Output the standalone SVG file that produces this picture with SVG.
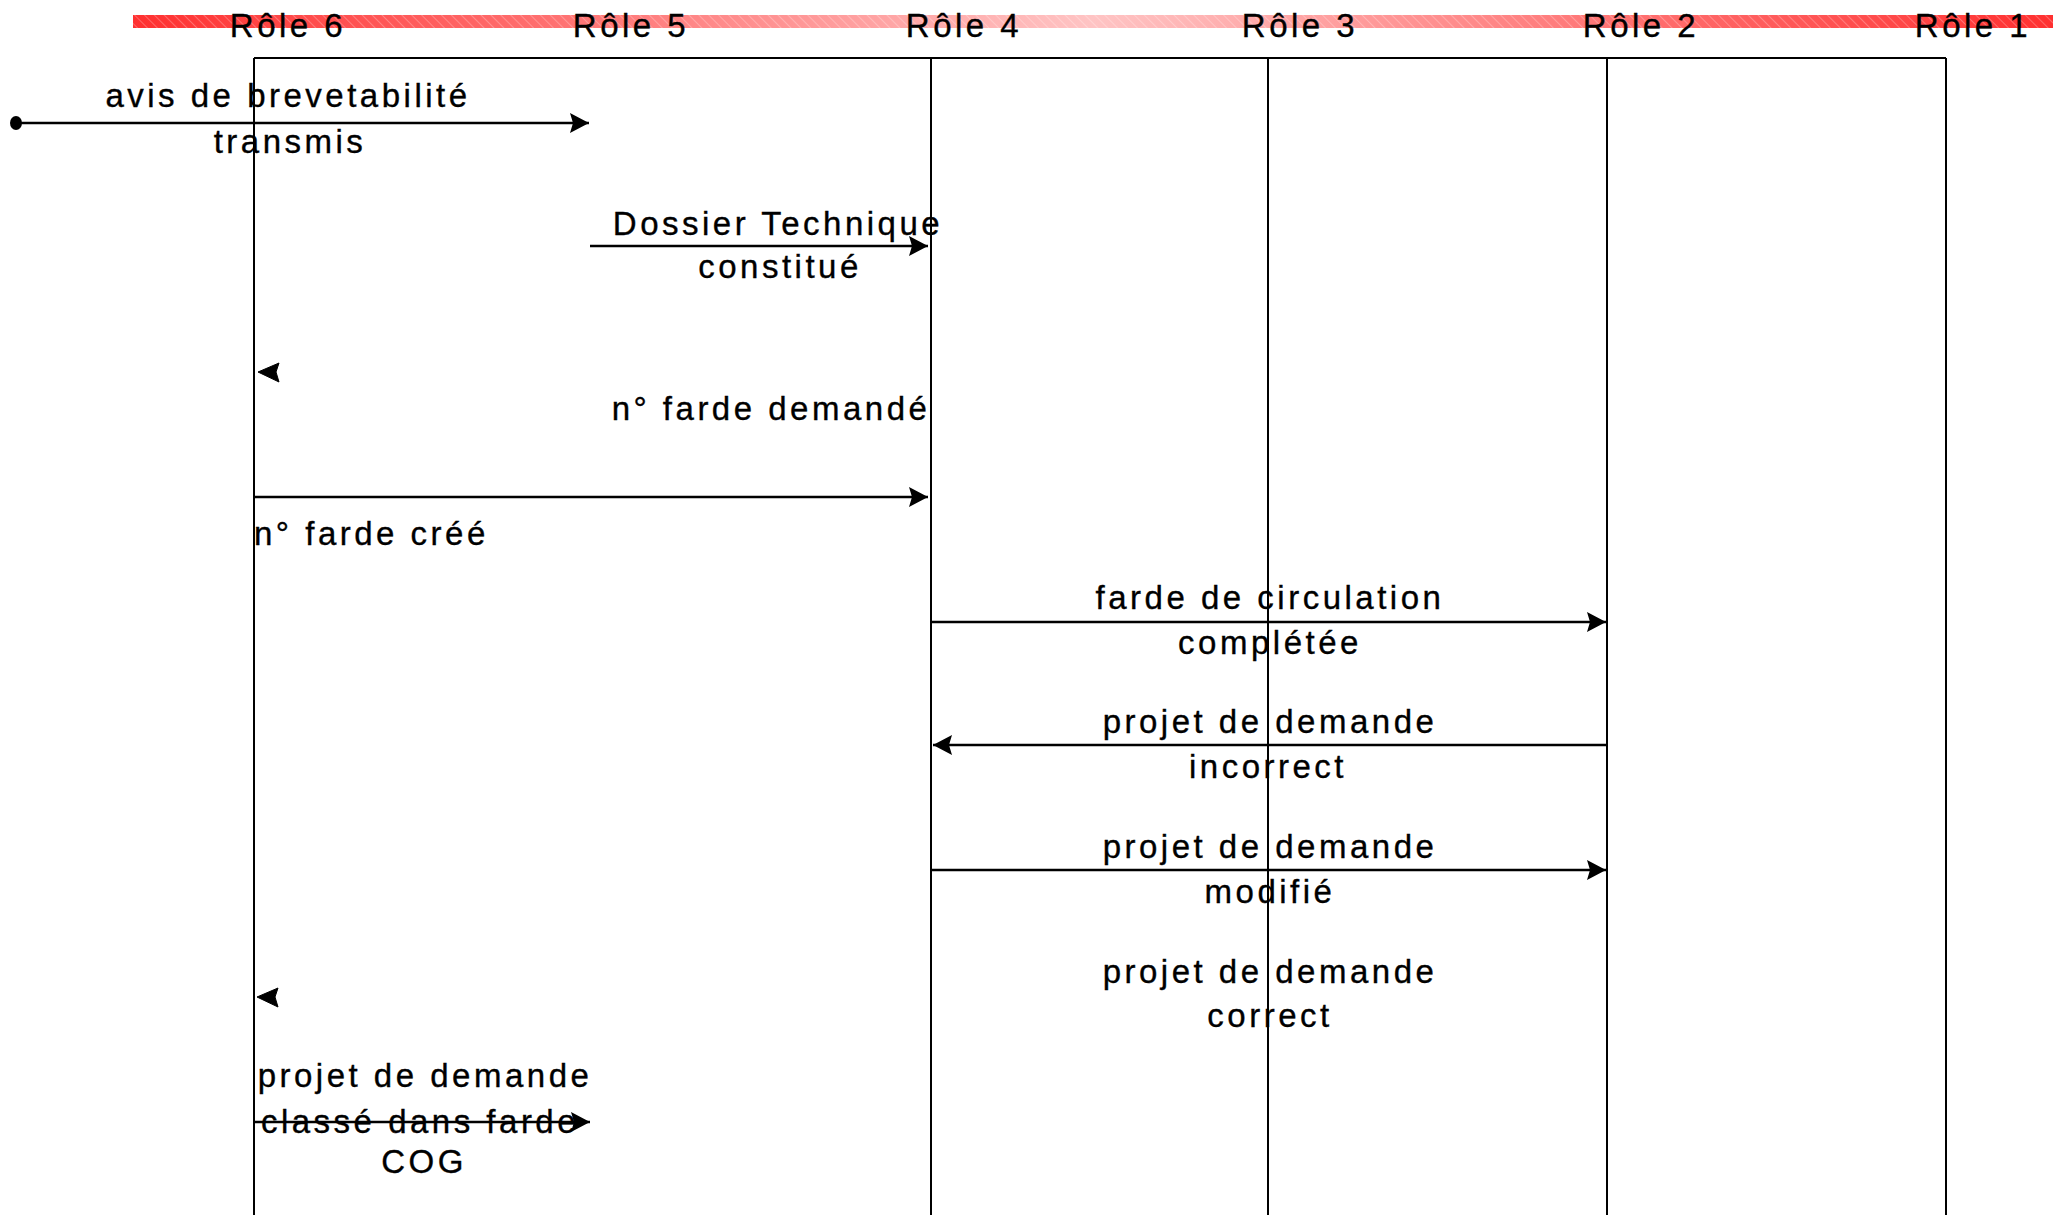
<svg xmlns="http://www.w3.org/2000/svg" width="2053" height="1215" viewBox="0 0 2053 1215">
  <style>
    .lbl { font-family: "Liberation Sans", Arial, sans-serif; font-size: 33px; letter-spacing: 3.5px; fill: #000; stroke: #000; stroke-width: 0.35px; }
    .mid { text-anchor: middle; }
    .frame { stroke: #000; stroke-width: 2; fill: none; }
    .msg { stroke: #000; stroke-width: 2.5; fill: none; }
    .head { fill: #000; stroke: #000; stroke-width: 1; }
  </style>
  <defs>
    <linearGradient id="bandFill" x1="133" y1="0" x2="2053" y2="0" gradientUnits="userSpaceOnUse">
      <stop offset="0" stop-color="#ff3030"/>
      <stop offset="0.5" stop-color="#ffc4c4"/>
      <stop offset="1" stop-color="#ff3030"/>
    </linearGradient>
    <pattern id="hatch" width="7" height="7" patternUnits="userSpaceOnUse" patternTransform="rotate(-45)">
      <line x1="0" y1="0" x2="0" y2="7" stroke="#ffffff" stroke-opacity="0.35" stroke-width="1.5"/>
    </pattern>
    <marker id="arrow" markerWidth="22" markerHeight="22" refX="19" refY="10" orient="auto" markerUnits="userSpaceOnUse">
      <path d="M0,0 L19,10 L0,20 L3,10 z" fill="#000"/>
    </marker>
    <marker id="dot" markerWidth="16" markerHeight="18" refX="8" refY="9" orient="auto" markerUnits="userSpaceOnUse">
      <ellipse cx="8" cy="9" rx="6" ry="7" fill="#000"/>
    </marker>
  </defs>

  <rect x="0" y="0" width="2053" height="1215" fill="#fff"/>

  <!-- role header band -->
  <g id="header-band">
    <rect x="133" y="15" width="1920" height="13" fill="url(#bandFill)"/>
    <rect x="133" y="15" width="1920" height="13" fill="url(#hatch)"/>
  </g>

  <!-- role names -->
  <g id="role-6"><text class="lbl mid" x="288" y="37">Rôle 6</text></g>
  <g id="role-5"><text class="lbl mid" x="631" y="37">Rôle 5</text></g>
  <g id="role-4"><text class="lbl mid" x="964" y="37">Rôle 4</text></g>
  <g id="role-3"><text class="lbl mid" x="1300" y="37">Rôle 3</text></g>
  <g id="role-2"><text class="lbl mid" x="1641" y="37">Rôle 2</text></g>
  <g id="role-1"><text class="lbl mid" x="1973" y="37">Rôle 1</text></g>

  <!-- lane frame -->
  <g id="lanes">
    <line class="frame" x1="254" y1="58" x2="1946" y2="58"/>
    <line class="frame" x1="254" y1="58" x2="254" y2="1215"/>
    <line class="frame" x1="931" y1="58" x2="931" y2="1215"/>
    <line class="frame" x1="1268" y1="58" x2="1268" y2="1215"/>
    <line class="frame" x1="1607" y1="58" x2="1607" y2="1215"/>
    <line class="frame" x1="1946" y1="58" x2="1946" y2="1215"/>
  </g>

  <!-- messages -->
  <g id="connectors">
    <line class="msg" x1="16" y1="123" x2="589" y2="123" marker-start="url(#dot)" marker-end="url(#arrow)"/>
    <line class="msg" x1="590" y1="246" x2="928" y2="246" marker-end="url(#arrow)"/>
    <path class="head" d="M258,372 L279,363 L276,372 L279,382 z"/>
    <line class="msg" x1="254" y1="497" x2="928" y2="497" marker-end="url(#arrow)"/>
    <line class="msg" x1="931" y1="622" x2="1606" y2="622" marker-end="url(#arrow)"/>
    <line class="msg" x1="1607" y1="745" x2="933" y2="745" marker-end="url(#arrow)"/>
    <line class="msg" x1="931" y1="870" x2="1606" y2="870" marker-end="url(#arrow)"/>
    <path class="head" d="M257,997 L278,988 L275,997 L278,1007 z"/>
    <line class="msg" x1="254" y1="1122" x2="590" y2="1122" marker-end="url(#arrow)"/>
  </g>

  <!-- message labels -->
  <g id="msg-avis">
    <text class="lbl mid" x="288" y="107">avis de brevetabilité</text>
    <text class="lbl mid" x="290" y="153">transmis</text>
  </g>
  <g id="msg-dossier">
    <text class="lbl mid" x="778" y="235">Dossier Technique</text>
    <text class="lbl mid" x="780" y="278">constitué</text>
  </g>
  <g id="msg-demande">
    <text class="lbl mid" x="771" y="420">n° farde demandé</text>
  </g>
  <g id="msg-cree">
    <text class="lbl" x="254" y="545">n° farde créé</text>
  </g>
  <g id="msg-circulation">
    <text class="lbl mid" x="1270" y="609">farde de circulation</text>
    <text class="lbl mid" x="1270" y="654">complétée</text>
  </g>
  <g id="msg-incorrect">
    <text class="lbl mid" x="1270" y="733">projet de demande</text>
    <text class="lbl mid" x="1268" y="778">incorrect</text>
  </g>
  <g id="msg-modifie">
    <text class="lbl mid" x="1270" y="858">projet de demande</text>
    <text class="lbl mid" x="1270" y="903">modifié</text>
  </g>
  <g id="msg-correct">
    <text class="lbl mid" x="1270" y="983">projet de demande</text>
    <text class="lbl mid" x="1270" y="1027">correct</text>
  </g>
  <g id="msg-classe">
    <text class="lbl mid" x="425" y="1087">projet de demande</text>
    <text class="lbl mid" x="420" y="1133">classé dans farde</text>
    <text class="lbl mid" x="424" y="1173">COG</text>
  </g>
</svg>
